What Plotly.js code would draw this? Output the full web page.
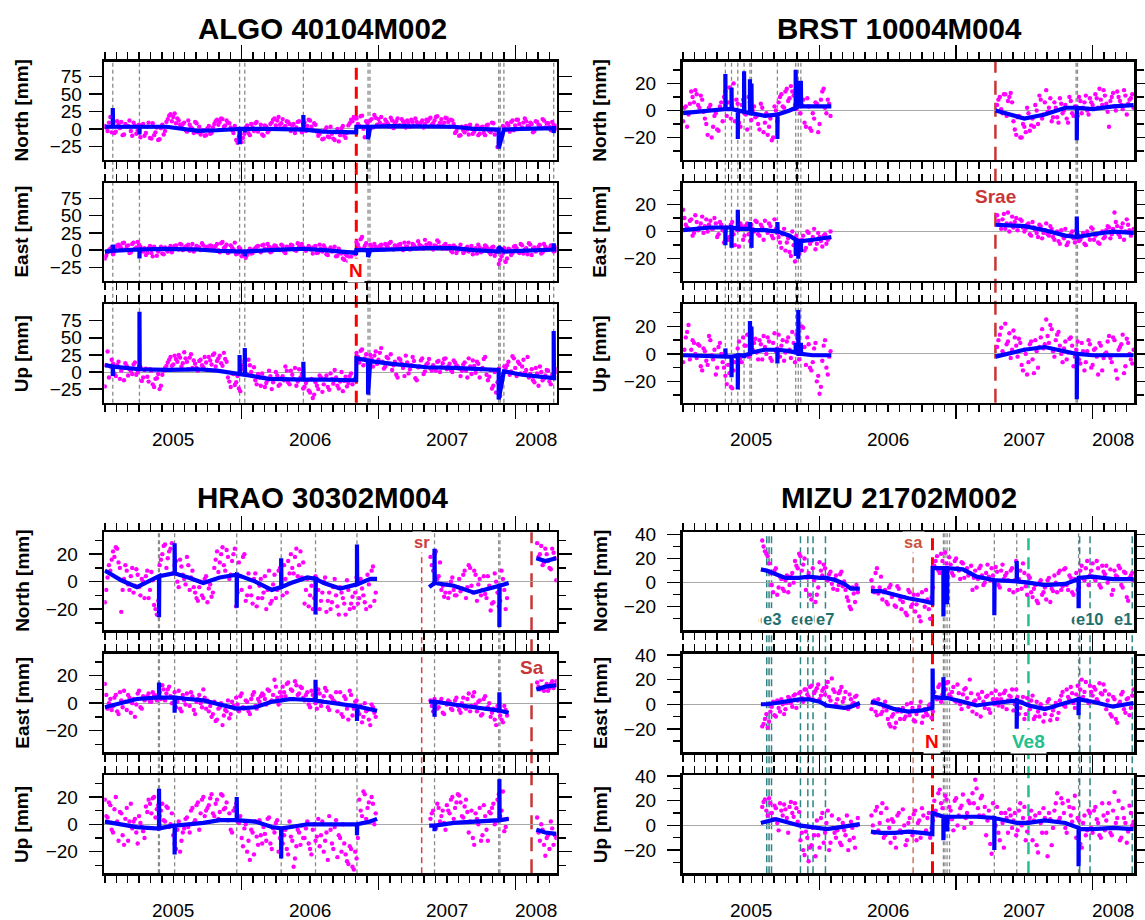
<!DOCTYPE html>
<html><head><meta charset="utf-8">
<script src="https://cdn.plot.ly/plotly-3.0.1.min.js"></script>
<style>html,body{margin:0;padding:0;background:#fff}</style>
</head><body><div id="chart" style="width:1145px;height:920px"></div>
<script>
// ================= DATA =================
// epochs: hundredths of a year after 2005.0 (two interleaved sample sets per station)
const algoEpochs = [0,2,4,6,8,10,12,14,16,18,20,22,24,26,28,30,32,34,36,38,40,42,44,46,48,50,52,54,56,58,60,62,64,66,68,70,72,74,76,78,80,82,84,86,88,90,92,94,96,98,100,102,104,106,108,110,112,114,116,118,120,122,124,126,128,130,132,134,136,138,140,142,144,146,148,150,152,154,156,158,160,162,164,166,168,170,172,174,176,178,180,182,184,186,188,190,192,194,196,198,200,202,204,206,208,210,212,214,216,218,220,222,224,226,228,230,232,234,236,238,240,242,244,246,248,250,252,254,256,258,260,262,264,266,268,270,272,274,276,278,280,282,284,286,288,290,292,294,296,298,300,302,304,306,308,310,312,314,316,318,320,322,324,326,328,330];
const algoN = [4,-3,17,8,-4,6,10,-8,3,12,-10,5,-2,-12,7,-6,9,-14,-9,2,-15,6,-3,14,21,17,8,12,3,9,-4,6,0,10,-5,-8,-2,-9,4,-6,7,13,10,14,5,9,2,-6,-16,-11,-19,-7,5,-9,2,8,-4,6,-10,3,-2,9,15,12,6,14,4,10,-3,7,2,11,-5,9,4,12,-2,6,-10,-4,-14,2,-12,-7,-16,0,-9,4,-13,5,13,17,15,4,19,-12,8,12,2,16,14,17,6,10,3,12,8,15,5,11,2,9,13,4,10,6,12,7,11,16,8,17,5,14,9,15,3,12,-6,2,-9,-2,4,-8,0,-4,5,-7,3,-9,6,-5,8,-2,-20,-14,2,8,-4,12,5,13,0,9,11,3,7,-3,10,5,14,2,8,-2,6,4];
const algoE = [-12,-3,2,-6,5,8,3,11,6,-4,9,2,12,5,-2,-7,3,-4,5,-8,1,-5,4,-2,6,4,7,1,8,3,6,-1,9,2,5,0,7,4,1,6,3,9,-3,12,5,-4,7,1,-6,4,-9,-2,-7,2,-4,3,6,-3,8,1,5,-2,7,3,0,6,-4,4,8,2,-1,5,9,1,3,4,-5,6,-3,2,7,-6,1,-2,5,-8,-4,-12,-6,-16,-10,-19,12,3,19,6,-2,8,1,5,3,8,1,6,10,2,7,4,9,0,5,11,3,7,2,8,5,15,4,9,1,6,12,3,7,2,6,-3,5,0,8,-4,3,-2,6,1,-5,4,-1,7,2,-6,5,-3,-20,-9,3,-12,1,-4,6,-2,9,-5,3,10,-7,4,0,8,-3,5,1,7,-2,4];
const algoU = [-21,30,8,12,-6,15,2,-12,9,4,-3,14,0,7,-8,5,-14,2,-22,-9,-25,-4,6,14,22,11,19,25,8,29,15,21,6,12,2,18,7,14,22,11,27,16,24,9,19,-8,-22,-3,-15,-24,4,16,-4,10,-6,-12,-3,-20,-8,-16,2,-25,-10,-5,-18,-6,8,-15,2,-10,-20,4,-3,-22,-12,-30,-38,-15,-25,-8,-18,-5,-26,-10,3,-20,-14,-28,-7,-16,-2,-12,28,14,33,20,12,25,8,30,18,35,5,22,12,3,15,-8,18,6,24,-2,10,16,-12,8,20,1,13,5,10,2,16,7,19,4,12,0,14,8,-6,11,2,20,-3,9,15,-8,6,22,-12,3,-20,-30,5,-16,8,10,-4,23,6,15,-2,18,3,-8,4,-15,-2,8,-12,-5,2,-18,-6,0];
const algoEpochs2 = [1,3,5,7,9,11,13,15,17,19,21,23,25,27,29,31,33,35,37,39,41,43,45,47,49,51,53,55,57,59,61,63,65,67,69,71,73,75,77,79,81,83,85,87,89,91,93,95,97,99,101,103,105,107,109,111,113,115,117,119,121,123,125,127,129,131,133,135,137,139,141,143,145,147,149,151,153,155,157,159,161,163,165,167,169,171,173,175,177,179,181,183,185,187,189,191,193,195,197,199,201,203,205,207,209,211,213,215,217,219,221,223,225,227,229,231,233,235,237,239,241,243,245,247,249,251,253,255,257,259,261,263,265,267,269,271,273,275,277,279,281,283,285,287,289,291,293,295,297,299,301,303,305,307,309,311,313,315,317,319,321,323,325,327,329];
const algoN2 = [2,9,-5,-6,11,1,-9,7,4,-3,9,-7,6,5,-10,3,-13,8,-5,-16,1,-8,10,19,11,22,15,6,7,-2,12,2,-6,8,3,-4,-10,1,-7,2,11,6,15,3,12,8,-2,4,-20,-8,-13,2,-6,7,-3,10,0,-8,5,-5,7,13,5,17,8,2,11,7,5,-6,10,0,7,-3,13,3,8,-4,-7,-15,-2,-11,3,-14,-5,-18,1,-10,-6,8,11,15,7,18,0,11,-8,14,20,6,9,4,13,7,16,1,11,5,14,8,12,3,10,15,6,9,2,13,14,6,12,18,9,4,16,10,13,7,-3,-10,3,-5,-1,6,-7,1,-9,2,-6,5,-3,9,-8,-26,-10,4,-1,5,10,-2,13,7,2,15,4,9,-5,11,6,1,12,8,3,10,-1];
const algoE2 = [-8,0,4,-2,7,5,10,1,7,-3,11,4,8,-1,3,-4,6,-9,2,-2,5,-6,1,3,-3,6,2,9,0,5,8,3,-2,6,4,10,1,5,7,2,6,0,10,3,8,-2,4,11,-5,2,-6,-11,-1,-5,1,5,-1,7,2,9,-3,4,6,1,8,-2,5,3,7,0,10,2,4,-1,6,1,5,-4,8,-2,3,-7,4,0,-9,2,-5,-14,-8,-11,-17,-6,8,16,2,10,-1,5,9,3,6,2,9,4,12,1,6,8,3,11,5,1,9,4,13,6,2,8,10,3,7,14,5,2,9,4,-1,7,-4,3,1,-2,5,0,-6,3,8,-3,2,5,-3,4,-8,1,-14,-4,-17,2,-7,5,3,-4,7,1,-6,8,2,-2,5,-5,9,0,3,6,-1];
const algoU2 = [10,-8,18,-2,10,-10,6,13,-5,2,11,-4,8,-13,3,-7,4,-18,-10,-3,-20,2,9,18,9,24,15,21,13,20,4,26,17,6,16,10,22,3,17,25,8,20,13,28,15,-14,-2,-19,-6,-28,10,-2,18,0,7,-18,-8,-2,-22,-12,-6,-15,0,-20,-9,-12,2,-18,-4,6,-14,-8,-24,-16,-27,-10,-33,-20,-5,-29,-10,-22,-2,-17,-8,-24,0,-13,-21,-6,-18,-9,22,31,10,26,16,19,24,12,28,15,8,20,26,10,-4,20,12,-6,14,4,22,-9,7,17,-3,11,19,2,6,15,0,13,20,8,3,17,10,5,2,14,-8,8,17,-1,12,4,19,-4,-7,-24,0,-15,-35,-3,6,15,1,20,-6,12,8,-1,22,-3,-12,6,-20,0,-9,3,-14,-4,5];
const algoModelT = [2005.000,2005.058,2005.058,2005.060,2005.253,2005.253,2005.255,2005.450,2005.580,2005.680,2005.820,2005.985,2005.985,2005.987,2006.023,2006.023,2006.025,2006.200,2006.451,2006.451,2006.453,2006.600,2006.837,2006.839,2006.924,2006.924,2006.940,2007.100,2007.350,2007.550,2007.700,2007.879,2007.879,2007.917,2008.050,2008.281,2008.281,2008.283,2008.300];
const algoModelN = [3,3,30,3,3,-8,3,3,0,-3,-2,0,-22,0,0,-5,0,0,-1,20,-1,-4,-5,3,3,-15,3,4,4,3,0,-1,-28,-1,0,1,-6,1,1];
const algoModelE = [-2,-1,8,-1,1,-12,1,2,2,1,-1,-2,-2,-2,-2,-9,-2,0,2,4,2,0,-4,0,0,-10,0,1,3,3,0,-2,5,-2,-1,1,10,1,1];
const algoModelU = [10,8,-6,8,4,88,4,3,4,4,2,-3,25,-3,-4,35,-4,-10,-11,15,-11,-11,-12,20,17,-33,16,12,7,6,5,3,-40,1,-4,-9,60,-9,-9];
const algoEventT = [2005.058,2005.253,2005.985,2006.023,2006.451,2006.924,2006.938,2007.879,2007.890,2007.917,2008.281,2006.838];
const algoEventKind = ['g','g','g','g','g','g','g','g','g','g','g','N'];
const algoEventLabel = ['','','','','','','','','','','','N'];

const brstEpochs = [0,2,4,6,8,10,12,14,16,18,20,22,24,26,28,30,32,34,36,38,40,42,44,46,48,50,52,54,56,58,60,62,64,66,68,70,72,74,76,78,80,82,84,86,88,90,92,94,96,98,100,102,104,106,108,230,232,234,236,238,240,242,244,246,248,250,252,254,256,258,260,262,264,266,268,270,272,274,276,278,280,282,284,286,288,290,292,294,296,298,300,302,304,306,308,310,312,314,316,318,320,322,324,326,328,330];
const brstN = [-8,3,-3,14,6,12,2,8,-6,-18,4,-12,-2,-15,6,10,-4,17,2,-8,5,-12,8,-3,10,-7,3,-4,-14,2,-9,-18,-6,-20,0,6,12,2,16,9,14,4,17,-2,8,-12,3,-15,-6,5,-10,14,2,8,-4,4,10,-2,12,7,13,-8,-18,-4,-20,-12,2,-15,-6,4,-10,8,-3,15,2,-8,6,-5,9,-2,4,-9,7,-4,3,10,-2,6,0,9,4,12,2,8,15,5,-12,10,3,14,7,1,11,5,9,2];
const brstE = [16,5,2,9,-1,7,3,11,4,0,8,2,6,-2,5,-8,3,-4,7,-10,1,6,-6,4,-2,5,0,7,-3,3,8,-1,4,-5,2,-4,-12,2,-8,-15,0,-22,-6,-10,-3,-12,-1,-7,2,-9,-4,-11,-2,-6,0,12,5,9,2,14,6,3,10,4,8,0,5,-2,7,1,-4,4,-1,6,-3,2,-6,0,-9,-3,2,-8,-2,-5,1,-7,-4,-9,0,-6,2,-3,-8,-1,-5,1,3,-2,14,4,-4,6,0,5,-3,2];
const brstU = [-6,12,21,3,8,-3,6,-12,2,-8,10,-4,-15,5,0,-10,-22,-14,-25,-6,4,-3,12,6,-2,15,8,1,10,-4,5,12,-3,8,2,14,6,-5,9,3,16,-6,11,2,19,-8,7,-12,4,-20,-29,-5,10,-15,2,5,14,2,22,9,-3,17,6,11,-8,3,-15,7,-4,10,-10,12,4,25,8,18,-2,14,6,-6,9,1,12,-9,3,-4,8,-12,2,7,-8,4,-15,6,-3,1,13,-6,10,-18,5,14,-9,8,-4,3];
const brstEpochs2 = [1,3,5,7,9,11,13,15,17,19,21,23,25,27,29,31,33,35,37,39,41,43,45,47,49,51,53,55,57,59,61,63,65,67,69,71,73,75,77,79,81,83,85,87,89,91,93,95,97,99,101,103,105,107,231,233,235,237,239,241,243,245,247,249,251,253,255,257,259,261,263,265,267,269,271,273,275,277,279,281,283,285,287,289,291,293,295,297,299,301,303,305,307,309,311,313,315,317,319,321,323,325,327,329];
const brstN2 = [2,-12,5,10,15,4,11,-1,-10,2,-20,-4,-14,3,-8,14,6,-6,20,8,-9,4,-2,-14,6,0,-5,-10,5,-16,-2,-12,-22,3,-8,10,3,14,7,18,11,1,13,4,-9,9,-13,-2,6,-16,8,16,-2,5,8,1,12,-4,10,6,-14,-5,-20,-10,-16,-2,-11,-12,0,11,-6,6,-1,9,-5,2,-9,5,0,-6,10,-2,3,-4,7,2,11,-3,6,1,9,16,4,11,-1,7,13,0,10,4,15,-3,8,12];
const brstE2 = [10,3,8,-3,12,1,6,-1,9,5,2,10,-4,7,1,0,-6,5,-2,2,-11,4,-3,6,-7,2,8,-2,5,-6,1,6,-3,9,-1,-8,-2,-14,-5,-18,-10,-3,-16,-6,-14,0,-9,-4,-13,-1,-7,-3,-9,-5,8,2,13,6,0,11,7,1,9,3,2,6,-3,3,-1,5,-5,1,-2,4,-4,-1,-7,1,-5,-10,-3,0,-8,-2,-6,-1,-10,-3,3,-6,-2,-9,0,-4,4,-5,2,7,-2,3,-6,9,1,-1];
const brstU2 = [3,16,-4,10,0,7,-9,4,-5,13,-1,3,-10,8,-6,-16,-8,-24,-12,-2,9,-6,6,14,-1,3,11,-4,7,13,0,9,-5,15,4,-2,10,1,12,-3,8,14,-4,20,5,12,-10,-6,8,-16,-24,6,-10,-2,10,19,0,7,15,3,12,-2,8,-12,0,-6,9,-14,2,5,18,7,13,21,2,10,16,0,4,-4,11,6,-2,9,-7,2,-6,10,-10,3,-2,8,-12,0,9,-3,12,-12,3,7,-14,11,0,-7];
const brstModelT = [2005.000,2005.200,2005.310,2005.310,2005.312,2005.355,2005.355,2005.357,2005.401,2005.401,2005.403,2005.447,2005.447,2005.449,2005.490,2005.490,2005.492,2005.501,2005.501,2005.503,2005.600,2005.691,2005.691,2005.693,2005.780,2005.825,2005.825,2005.827,2005.844,2005.844,2005.846,2005.863,2005.863,2005.865,2005.950,2006.086,null,2007.290,2007.500,2007.650,2007.800,2007.884,2007.884,2007.886,2008.000,2008.150,2008.300];
const brstModelN = [-2,0,1,27,1,1,17,1,0,-21,0,-1,29,-1,-2,23,-2,-2,20,-2,-4,-3,-21,-3,0,2,30,2,3,22,3,3,22,3,3,3,null,0,-6,-3,2,2,-22,2,1,3,4];
const brstModelE = [1,3,3,-10,3,3,-12,3,2,16,2,2,2,2,2,7,2,1,-12,1,1,0,7,0,-3,-6,-18,-6,-7,-20,-7,-7,-15,-7,-6,-4,null,5,4,1,-3,-4,11,-4,-2,0,-1];
const brstModelU = [-1,-2,-2,4,-2,-2,-17,-2,-1,-26,-1,-1,-3,-1,0,24,0,1,20,1,3,3,-7,3,2,1,8,1,0,32,0,0,8,0,-1,-1,null,-2,3,5,2,0,-33,0,-1,-1,-1];
const brstEventT = [2005.310,2005.355,2005.401,2005.447,2005.490,2005.501,2005.691,2005.825,2005.844,2005.863,2007.879,2007.889,2007.288];
const brstEventKind = ['g','g','g','g','g','g','g','g','g','g','g','g','S'];
const brstEventLabel = ['','','','','','','','','','','','','Srae'];

const hraoEpochs = [0,2,4,6,8,10,12,14,16,18,20,22,24,26,28,30,32,34,36,38,40,42,44,46,48,50,52,54,56,58,60,62,64,66,68,70,72,74,76,78,80,82,84,86,88,90,92,94,96,98,100,102,104,106,108,110,112,114,116,118,120,122,124,126,128,130,132,134,136,138,140,142,144,146,148,150,152,154,156,158,160,162,164,166,168,170,172,174,176,178,180,182,184,186,188,190,192,194,196,198,238,240,242,244,246,248,250,252,254,256,258,260,262,264,266,268,270,272,274,276,278,280,282,284,286,288,290,292,294,316,318,320,322,324,326,328,330];
const hraoN = [-15,3,8,22,25,14,-22,2,8,-6,10,-3,5,-10,0,4,-12,7,-17,-24,12,20,27,17,24,6,15,-4,11,2,18,-6,8,-8,-14,0,-12,4,-5,-11,10,22,14,25,8,18,5,20,-18,14,-6,20,-10,-4,-16,6,-12,2,-8,-20,8,-14,5,-6,10,-10,2,15,20,6,24,12,3,-16,2,-10,-20,4,-6,-14,0,-22,-8,-15,2,-18,-4,-12,-24,-6,-16,-19,3,-12,-5,-15,5,-18,11,-8,18,8,22,4,-6,-11,-2,-8,3,-10,-4,-7,5,-12,12,-3,8,-14,2,-6,-9,4,-21,-15,0,-18,8,-6,-12,28,20,12,24,15,9,21,1];
const hraoE = [14,-4,3,-2,6,-8,2,9,-5,4,0,-10,7,-3,5,3,7,1,6,2,8,13,2,10,5,4,-3,9,-6,2,7,-2,5,-8,3,0,10,-4,-6,-10,1,-12,-3,-16,-5,2,-8,-2,4,-6,7,-4,1,-8,6,-2,3,5,6,-1,9,2,17,4,8,12,5,15,10,3,13,7,11,2,8,-3,6,0,10,-2,5,9,-5,4,1,-6,8,-10,3,-12,6,-4,2,-8,-14,0,-5,-16,-3,-10,2,-6,0,-3,3,-8,-1,1,-5,2,-2,-7,4,-4,7,-2,8,-6,2,-8,5,-3,-10,-4,-16,-6,-12,-2,-9,15,10,18,12,9,14,11,16];
const hraoU = [18,5,14,-6,20,-12,8,-15,12,2,-3,4,-14,1,-5,13,18,8,20,11,6,15,2,12,0,-8,-18,2,-12,-3,5,-6,12,3,16,8,20,10,14,22,6,18,9,21,12,3,-4,10,15,1,-10,-3,-20,-26,-6,2,-15,-8,-2,-12,5,-18,-6,3,-10,-14,-4,-22,-9,-31,-16,-6,-1,-10,2,-18,-4,-12,4,-8,-20,-6,6,-14,-2,-24,-10,0,-22,-29,-18,-33,-25,18,6,22,12,2,15,8,4,10,-3,12,6,1,14,8,20,12,22,16,5,18,-6,10,-15,4,12,-8,6,-12,8,15,2,22,10,-5,4,5,-12,-4,-23,-8,2,-15,-10];
const hraoEpochs2 = [1,3,5,7,9,11,13,15,17,19,21,23,25,27,29,31,33,35,37,39,41,43,45,47,49,51,53,55,57,59,61,63,65,67,69,71,73,75,77,79,81,83,85,87,89,91,93,95,97,99,101,103,105,107,109,111,113,115,117,119,121,123,125,127,129,131,133,135,137,139,141,143,145,147,149,151,153,155,157,159,161,163,165,167,169,171,173,175,177,179,181,183,185,187,189,191,193,195,197,239,241,243,245,247,249,251,253,255,257,259,261,263,265,267,269,271,273,275,277,279,281,283,285,287,289,291,293,317,319,321,323,325,327,329];
const hraoN2 = [-6,12,16,18,24,10,-6,12,-2,4,-8,9,-4,2,-12,8,-6,1,-20,-14,16,26,10,22,28,12,0,16,5,-2,12,3,-4,-12,-4,-10,2,-15,-2,-8,16,7,20,12,23,2,15,24,-8,4,18,-14,6,-10,2,-18,-3,-12,4,-6,-16,-2,-12,8,-4,12,-8,6,10,18,4,22,14,-6,-18,-3,-12,2,-20,-8,3,-14,-20,-4,-10,-24,-8,-16,1,-20,-11,-8,-16,2,-10,-20,-2,8,-14,12,20,2,14,-3,-8,-12,0,-6,-10,2,-5,8,-4,10,-8,5,-2,-10,4,-12,-3,-16,6,-8,-14,2,-20,18,26,14,20,10,24,17];
const hraoE2 = [6,0,-5,4,-6,8,-3,1,6,-7,3,-1,9,-4,2,5,1,8,4,6,3,10,7,12,0,8,1,-4,6,-1,3,8,-5,1,6,-3,4,2,-2,-8,-13,-4,0,-9,-6,-11,1,-4,-1,5,-3,2,-6,3,8,-4,1,7,3,10,1,6,12,-1,5,8,14,3,9,16,6,12,4,6,-1,9,3,-4,7,1,11,-3,5,2,8,0,-8,5,-4,9,-9,1,-6,-2,-10,-6,-12,-1,-7,-2,3,-4,1,-7,0,2,-4,-1,4,-5,0,-3,3,-6,5,-1,1,-9,3,-4,0,-7,-12,-2,-9,-14,-5,12,17,9,14,11,16,13];
const hraoU2 = [6,16,-4,11,2,9,-8,4,-12,15,2,-6,6,-2,-10,9,15,19,5,14,10,3,13,-2,8,-14,-4,-20,-6,4,-2,10,1,14,-4,18,6,12,19,8,15,4,22,11,16,8,-6,12,2,6,-16,0,-12,-4,-22,-9,3,-14,-7,4,-14,-3,1,-20,-5,-8,-18,2,-12,-25,-4,-15,-10,-3,-14,-22,0,-9,-16,2,-12,-26,-4,-18,3,-8,-20,-14,-27,-16,-31,-20,-10,10,24,4,16,20,0,8,-1,15,2,10,-4,10,18,4,16,21,6,13,9,2,-10,8,0,-12,14,-4,9,12,0,18,6,24,-2,-6,0,-15,-10,-18,-3,-8];
const hraoModelT = [2005.000,2005.120,2005.234,2005.370,2005.396,2005.396,2005.398,2005.500,2005.510,2005.510,2005.512,2005.610,2005.720,2005.840,2005.964,2005.964,2005.966,2006.100,2006.220,2006.289,2006.289,2006.291,2006.360,2006.480,2006.540,2006.540,2006.542,2006.600,2006.720,2006.843,2006.843,2006.845,2006.940,2006.990,null,2007.371,2007.410,2007.410,2007.412,2007.550,2007.700,2007.884,2007.884,2007.886,2007.952,null,2008.154,2008.220,2008.300];
const hraoModelN = [8,1,-4,3,4,-26,4,6,6,28,6,3,-1,3,5,-19,5,0,-6,-4,17,-4,-1,3,2,-24,2,-1,-5,-2,27,-2,2,2,null,-4,-1,24,-1,-3,-8,-3,-33,-3,-1,null,17,15,17];
const hraoModelE = [-3,0,3,4,4,15,4,4,4,-7,4,3,2,-1,-4,-4,-4,-3,1,2,2,2,3,2.5,2,17,2,1,-0.5,-2.4,-13,-2.4,-4.5,-5.5,null,1,1,-10,1,-1,-3,-5.5,8,-5.5,-7,null,10,12,13];
const hraoModelU = [2,0,-2,-3,-3,26,-3,-1,-1,-22,-1,0,1,3,3,20,3,2,-2,-3,-25,-3,-2,0,0,0,0,0,0,0,-8,0,2,4,null,-1,-1,-5,-1,1,2,3,33,3,4,null,-4,-6,-7];
const hraoEventT = [2005.392,2005.399,2005.510,2005.964,2006.289,2006.540,2006.843,2007.410,2007.879,2007.888,2007.316,2008.119];
const hraoEventKind = ['g','g','g','g','g','g','g','g','g','g','sr','S'];
const hraoEventLabel = ['','','','','','','','','','','sr','Sa'];

const mizuEpochs = [58,60,62,64,66,68,70,72,74,76,78,80,82,84,86,88,90,92,94,96,98,100,102,104,106,108,110,112,114,116,118,120,122,124,126,128,138,140,142,144,146,148,150,152,154,156,158,160,162,164,166,168,170,172,174,176,178,180,182,184,186,188,190,192,194,196,198,200,202,204,206,208,210,212,214,216,218,220,222,224,226,228,230,232,234,236,238,240,242,244,246,248,250,252,254,256,258,260,262,264,266,268,270,272,274,276,278,280,282,284,286,288,290,292,294,296,298,300,302,304,306,308,310,312,314,316,318,320,322,324,326,328,330];
const mizuN = [35,26,22,8,-8,12,-4,3,-7,6,-2,8,18,12,22,15,-6,8,-14,2,-10,17,6,12,2,9,-5,6,-2,9,1,-12,-20,-4,-16,-8,2,-8,12,-4,-14,-6,-18,-2,-10,-20,-5,-22,-12,-27,-8,-18,-24,-10,-32,-15,-6,-22,-12,14,22,8,18,25,12,15,6,20,10,17,4,12,8,-6,10,3,14,-2,8,5,12,0,9,-4,15,6,2,10,-8,18,3,-5,8,-10,4,-12,-2,-17,2,-8,-14,4,-5,6,-8,10,-3,12,-6,4,-10,8,-4,14,2,18,6,16,2,12,-4,9,14,3,-10,10,5,12,-4,8,-15,6,2];
const mizuE = [-18,-12,-19,-6,2,-10,-3,4,-8,1,5,-2,8,3,10,2,12,6,15,9,13,4,11,8,18,3,12,0,9,14,5,-3,8,0,6,-2,-4,3,-9,0,-6,2,-12,-18,-8,-15,-4,-6,-12,0,-9,-3,-14,-5,2,-10,-7,-1,-11,10,4,16,8,12,18,6,14,2,9,-4,12,5,20,-6,3,8,-10,2,6,-4,9,0,4,8,-2,11,3,6,-5,12,-8,2,-12,5,-4,7,-10,-6,0,-14,-3,4,-9,-2,-12,3,10,-2,6,14,1,8,5,20,10,3,15,7,12,2,9,16,-4,8,-10,4,-15,2,10,-7,5,-3,12];
const mizuU = [15,21,8,18,5,14,-4,12,17,6,15,10,18,3,-12,-20,-5,-29,-16,-8,4,-18,10,-6,12,-14,-2,-10,5,-16,-4,8,-12,-2,-18,6,8,-6,15,2,18,-8,4,-14,3,-18,10,-6,0,-12,6,-8,12,2,-10,8,-4,10,-2,20,8,29,14,24,5,12,-4,22,8,16,-2,10,18,26,37,14,22,8,-8,12,-23,5,15,-12,2,10,-6,8,4,-8,12,0,15,-5,6,-12,8,-22,2,14,-6,10,-16,12,26,6,18,-2,20,8,14,-10,4,-18,8,-4,10,-6,15,2,-10,8,4,18,-8,27,6,-12,14,2,-5,10,3];
const mizuEpochs2 = [59,61,63,65,67,69,71,73,75,77,79,81,83,85,87,89,91,93,95,97,99,101,103,105,107,109,111,113,115,117,119,121,123,125,127,139,141,143,145,147,149,151,153,155,157,159,161,163,165,167,169,171,173,175,177,179,181,183,185,187,189,191,193,195,197,199,201,203,205,207,209,211,213,215,217,219,221,223,225,227,229,231,233,235,237,239,241,243,245,247,249,251,253,255,257,259,261,263,265,267,269,271,273,275,277,279,281,283,285,287,289,291,293,295,297,299,301,303,305,307,309,311,313,315,317,319,321,323,325,327,329];
const mizuN2 = [30,24,16,-2,10,-10,5,-5,2,-8,5,0,14,24,10,20,4,-10,12,-16,-4,10,15,3,7,-1,3,-6,7,-3,-6,-15,-22,-9,-2,-4,8,-9,5,-8,-16,-4,-12,-19,-3,-14,-16,-25,-6,-20,-10,-18,-28,-8,-20,-14,-30,-4,18,10,24,4,16,21,8,18,12,3,16,10,6,14,4,-4,12,6,0,15,2,6,13,-2,10,3,8,-6,12,2,-6,10,16,-3,6,-8,-5,-15,0,-10,-4,2,-16,-7,0,8,-6,11,-2,6,-8,3,-6,10,4,12,-2,10,4,18,-2,14,7,0,11,-6,6,14,-2,9,-12,4,8];
const mizuE2 = [-16,-8,-14,-2,-9,3,-6,0,-4,6,1,7,-3,9,5,12,8,14,4,11,16,7,13,14,6,21,10,4,11,2,10,-4,4,1,7,1,-6,4,-8,-2,-5,-16,-10,-19,-6,-12,-3,-10,-6,1,-13,-8,-2,-15,-4,-9,0,-6,6,14,2,11,17,8,10,3,16,0,8,13,-2,9,2,-8,5,10,-3,7,-7,4,11,-1,4,9,-4,7,12,0,6,-3,6,-8,0,3,-12,2,-10,-3,-8,2,-13,-5,1,-7,7,-1,12,4,9,-3,15,12,6,18,1,10,14,4,17,8,11,3,-8,6,-12,0,8,-4,4,-9,7];
const mizuU2 = [19,12,22,10,16,2,18,8,13,-6,19,7,14,11,-6,-24,-10,-18,-2,-25,-8,6,-14,2,-20,8,-6,-4,-14,2,-8,-20,3,-10,0,0,12,-4,10,-10,14,-2,5,-10,8,-4,13,-16,2,-5,9,-12,4,14,-6,6,-10,4,12,26,18,6,21,15,5,20,0,14,25,6,20,2,18,30,8,24,15,4,-15,18,0,-6,10,-18,6,13,-2,10,-4,18,6,-12,3,12,4,-16,10,-6,6,-25,5,-2,18,4,22,10,-6,15,3,24,6,-15,2,-8,12,-2,12,5,-8,18,-4,10,-6,12,2,20,-10,6,-14,16,0];
const mizuModelT = [2005.570,2005.613,2005.680,2005.750,2005.850,2005.920,2006.000,2006.050,2006.120,2006.180,2006.230,2006.295,null,2006.376,2006.450,2006.550,2006.650,2006.750,2006.826,2006.828,2006.828,2006.830,2006.907,2006.907,2006.909,2006.934,2006.934,2006.936,2007.050,2007.150,2007.280,2007.280,2007.282,2007.444,2007.444,2007.446,2007.530,2007.650,2007.800,2007.897,2007.897,2007.899,2008.000,2008.150,2008.300];
const mizuModelN = [11,10,7,4,4,5,4,4,2,-1,-5,-5,null,-7,-7,-10,-13,-15,-17,12,12,12,12,-28,12,12,-18,12,11,5,2,-27,2,1,18,1,0,-2,-1,3,-37,4,5,3,3];
const mizuModelE = [0,0,1,2,4,4,2,-1,-2,-3,-2,1,null,2,0,-4,-6,-5,-3,6,29,6,5,22,5,5,5,5,2,-1,1,1,1,3,-20,3,-1,-4,1,4,-9,4,2,-2,1];
const mizuModelU = [2,3,5,3,0,-1,-2,-3,-2,-1,0,1,null,-5,-6,-6,-5,-6,-7,10,10,10,7,-12,7,7,-5,7,7,7,6,-20,6,2,2,2,2,4,2,-2,-33,-3,-3,-2,-3];
const mizuEventT = [2005.613,2005.630,2005.648,2005.860,2005.914,2005.952,2006.043,2006.685,2006.827,2006.907,2006.918,2006.934,2006.952,2007.280,2007.444,2007.897,2007.530,2007.905,2007.981,2008.290];
const mizuEventKind = ['e','e','e','e','e','e','e','sa','N','g','g','g','g','g','g','g','V','e','e','e'];
const mizuEventLabel = ['e1','e2','e3','e4','e5','e6','e7','sa','N','','','','','','','','Ve8','e9','e10','e1'];

const stationNames = ['ALGO 40104M002','BRST 10004M004','HRAO 30302M004','MIZU 21702M002'];
const componentNames = ['North [mm]','East [mm]','Up [mm]'];
const yearLabels = ['2005','2006','2007','2008'];
const yearLabelPos = [2005.5, 2006.5, 2007.5, 2008.15];

// ================= LAYOUT / STYLE =================
const W = 1145, H = 920;
const FONT = 'Liberation Sans, Arial, Helvetica, sans-serif';
const colPx = [[104.3, 556.7], [682.5, 1134]];
const rowPx = [[[62,159.5],[183.3,280.5],[304.3,402.8]], [[532.3,630],[654,752],[775.3,873.3]]];
const titleX = [322.4, 899];
const titleY = [28.3, 497.5];
const xRange = [2004.996, 2008.303];

const stations = [
  {row:0, col:0, ep:[algoEpochs, algoEpochs2], vals:[[algoN,algoN2],[algoE,algoE2],[algoU,algoU2]], mt:algoModelT, mv:[algoModelN,algoModelE,algoModelU],
   yr:[[-44,96],[-44,97],[-45,99]], dtick:25, minor:0, standoff:3, evT:algoEventT, evK:algoEventKind, evL:algoEventLabel},
  {row:0, col:1, ep:[brstEpochs, brstEpochs2], vals:[[brstN,brstN2],[brstE,brstE2],[brstU,brstU2]], mt:brstModelT, mv:[brstModelN,brstModelE,brstModelU],
   yr:[[-36.2,35.8],[-36,35.5],[-35.6,36.1]], dtick:20, minor:10, standoff:7, evT:brstEventT, evK:brstEventKind, evL:brstEventLabel},
  {row:1, col:0, ep:[hraoEpochs, hraoEpochs2], vals:[[hraoN,hraoN2],[hraoE,hraoE2],[hraoU,hraoU2]], mt:hraoModelT, mv:[hraoModelN,hraoModelE,hraoModelU],
   yr:[[-35.2,35.9],[-35.6,35.8],[-35.8,35.8]], dtick:20, minor:10, standoff:7, evT:hraoEventT, evK:hraoEventKind, evL:hraoEventLabel},
  {row:1, col:1, ep:[mizuEpochs, mizuEpochs2], vals:[[mizuN,mizuN2],[mizuE,mizuE2],[mizuU,mizuU2]], mt:mizuModelT, mv:[mizuModelN,mizuModelE,mizuModelU],
   yr:[[-39.3,41.8],[-38.8,40.8],[-38.8,40.6]], dtick:20, minor:10, standoff:7, evT:mizuEventT, evK:mizuEventKind, evL:mizuEventLabel}
];

const eventStyle = {
  g:{color:'#8a8a8a', width:1.3, dash:'4px,3px'},
  N:{color:'#ff0000', width:3, dash:'12px,7px'},
  S:{color:'#c83737', width:2.5, dash:'14px,8px'},
  sr:{color:'#e03c3c', width:1.5, dash:'6px,4px'},
  sa:{color:'#c8604a', width:1.3, dash:'6px,4px'},
  e:{color:'#2f8585', width:1.5, dash:'7px,4px'},
  V:{color:'#22c08c', width:2.5, dash:'12px,7px'}
};
const labelStyle = {
  N:{panel:1, edge:'bottom', color:'#ff0000', size:19, shift:-2},
  S:{panel:1, edge:'top', color:'#c83737', size:19, shift:-1},
  sr:{panel:0, edge:'top', color:'#c84040', size:16.5, shift:1},
  sa:{panel:0, edge:'top', color:'#c8553d', size:16.5, shift:1},
  e:{panel:0, edge:'bottom', color:'#1f7070', size:16.5, shift:0},
  V:{panel:1, edge:'bottom', color:'#22c08c', size:19, shift:-2}
};

const layout = {
  width: W, height: H, margin:{l:0,r:0,t:0,b:0},
  paper_bgcolor:'#ffffff', plot_bgcolor:'#ffffff', showlegend:false,
  font:{family:FONT, color:'#000000', size:19},
  shapes:[], annotations:[]
};
const traces = [];
const aid = p => (p === 1 ? '' : String(p));
const toYear = v => 2005 + v / 100;

stations.forEach((st, s) => {
  const [xl, xr] = colPx[st.col];
  const rows = rowPx[st.row];
  const t = st.ep[0].map(toYear).concat(st.ep[1].map(toYear));
  const modelTraces = [];
  for (let c = 0; c < 3; c++) {
    const p = s * 3 + c + 1, id = aid(p);
    const [top, bot] = rows[c];
    layout['xaxis' + id] = {
      domain:[xl / W, xr / W], range:xRange, anchor:'y' + id,
      showline:true, linewidth:2.6, linecolor:'#000', mirror:'ticks',
      ticks:'outside', tickmode:'array', tickvals:[2006, 2007, 2008], ticklen:14, tickwidth:1.4, tickcolor:'#000',
      showticklabels:false, showgrid:false, zeroline:false, fixedrange:true,
      minor:{tickmode:'linear', tick0:2005, dtick:1/12, ticks:'outside', ticklen:7, tickwidth:1.4, tickcolor:'#000', showgrid:false}
    };
    const ya = {
      domain:[1 - bot / H, 1 - top / H], range:st.yr[c], anchor:'x' + id,
      showline:true, linewidth:2.6, linecolor:'#000', mirror:'ticks',
      ticks:'outside', tickmode:'linear', tick0:0, dtick:st.dtick, ticklen:13, tickwidth:1.4, tickcolor:'#000',
      tickfont:{family:FONT, size:19, color:'#000'}, ticklabelstandoff:st.standoff,
      showgrid:false, zeroline:true, zerolinecolor:'#a8a8a8', zerolinewidth:1, fixedrange:true
    };
    if (st.minor) ya.minor = {tickmode:'linear', tick0:0, dtick:st.minor, ticks:'outside', ticklen:7, tickwidth:1.4, tickcolor:'#000', showgrid:false};
    layout['yaxis' + id] = ya;

    traces.push({type:'scatter', mode:'markers', x:t, y:st.vals[c][0].concat(st.vals[c][1]), xaxis:'x' + id, yaxis:'y' + id,
      marker:{color:'#ff00ff', size:4.4, line:{width:0}}, hoverinfo:'skip', cliponaxis:true});
    modelTraces.push({type:'scatter', mode:'lines', x:st.mt, y:st.mv[c], xaxis:'x' + id, yaxis:'y' + id,
      line:{color:'#0000ff', width:4.2}, connectgaps:false, hoverinfo:'skip'});

    layout.annotations.push({xref:'paper', yref:'paper', x:(xl - 82.6) / W, y:1 - (top + bot) / 2 / H,
      xanchor:'center', yanchor:'middle', textangle:-90, showarrow:false, text:componentNames[c],
      font:{family:FONT, size:19, color:'#000', weight:'bold'}});
    if (c === 2) {
      yearLabels.forEach((lab, i) => layout.annotations.push({xref:'x' + id, yref:'y' + id + ' domain',
        x:yearLabelPos[i], y:0, xanchor:'center', yanchor:'middle', yshift:-37, showarrow:false, text:lab,
        font:{family:FONT, size:19, color:'#000'}}));
    }
  }
  modelTraces.forEach(tr => traces.push(tr));

  layout.annotations.push({xref:'paper', yref:'paper', x:titleX[st.col] / W, y:1 - titleY[st.row] / H,
    xanchor:'center', yanchor:'middle', showarrow:false, text:stationNames[s],
    font:{family:FONT, size:29.5, color:'#000', weight:'bold'}});

  const xid = aid(s * 3 + 1);
  st.evT.forEach((tv, i) => {
    const k = st.evK[i];
    layout.shapes.push({type:'line', xref:'x' + xid, yref:'paper', x0:tv, x1:tv,
      y0:1 - rows[2][1] / H, y1:1 - rows[0][0] / H, line:Object.assign({}, eventStyle[k]), layer:'below'});
  });
  st.evT.forEach((tv, i) => {
    const k = st.evK[i], lab = st.evL[i];
    if (!lab) return;
    const ls = labelStyle[k];
    const pid = aid(s * 3 + ls.panel + 1);
    let xa = 'center', xv = tv;
    if (tv > xRange[1] - 0.06) { xa = 'right'; xv = xRange[1]; }
    layout.annotations.push({xref:'x' + pid, yref:'y' + pid + ' domain', x:xv, y:ls.edge === 'top' ? 1 : 0,
      xanchor:xa, yanchor:ls.edge, yshift:ls.shift, showarrow:false, text:lab, bgcolor:'#ffffff', borderpad:1,
      font:{family:FONT, size:ls.size, color:ls.color, weight:'bold'}});
  });
});

Plotly.newPlot('chart', traces, layout, {staticPlot:true, displayModeBar:false});
</script></body></html>
